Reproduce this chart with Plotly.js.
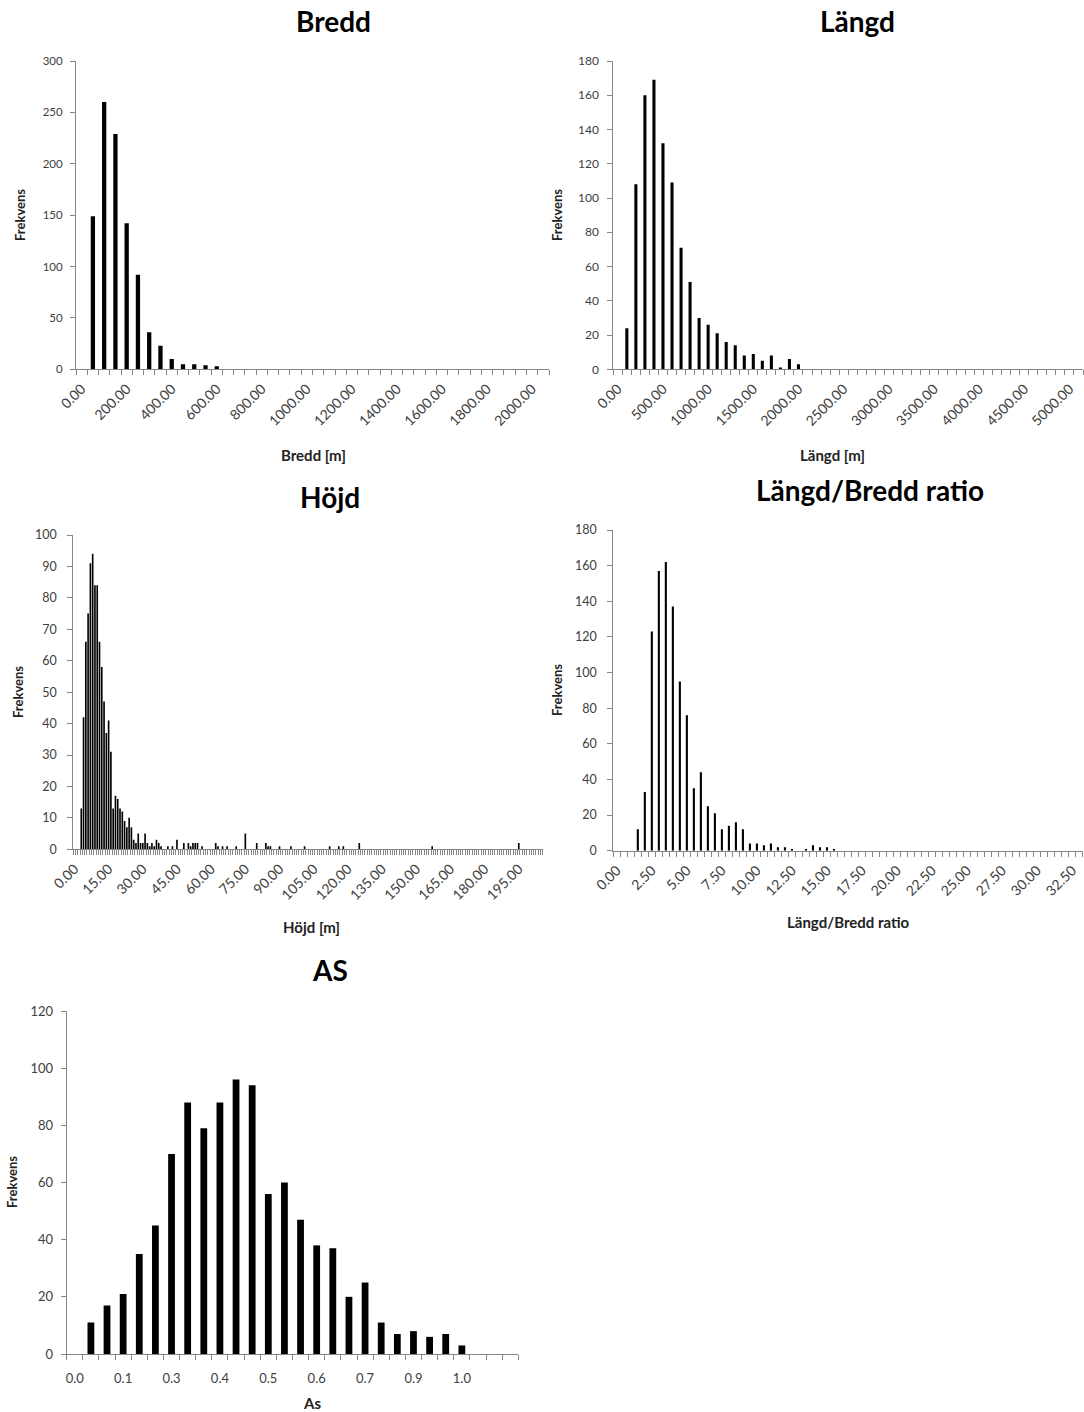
<!DOCTYPE html>
<html><head><meta charset="utf-8">
<script src="https://cdn.plot.ly/plotly-3.0.1.min.js"></script>
<style>html,body{margin:0;padding:0;background:#fff}#chart{width:1084px;height:1412px}</style>
</head><body><div id="chart"></div>
<script>
// ---------- DATA ----------
// Bredd histogram (bin upper limits, m) and frequencies
const breddBins = [0,50,100,150,200,250,300,350,400,450,500,550,600,650,700,750,800,850,900,950,1000,1050,1100,1150,1200,1250,1300,1350,1400,1450,1500,1550,1600,1650,1700,1750,1800,1850,1900,1950,2000,2050];
const breddFreq = [0,149,260,229,142,92,36,23,10,5,5,4,3,0,0,0,0,0,0,0,0,0,0,0,0,0,0,0,0,0,0,0,0,0,0,0,0,0,0,0,0,0];
const breddTickLabels = ["0.00","200.00","400.00","600.00","800.00","1000.00","1200.00","1400.00","1600.00","1800.00","2000.00"];

// Längd histogram
const langdBins = [0,100,200,300,400,500,600,700,800,900,1000,1100,1200,1300,1400,1500,1600,1700,1800,1900,2000,2100,2200,2300,2400,2500,2600,2700,2800,2900,3000,3100,3200,3300,3400,3500,3600,3700,3800,3900,4000,4100,4200,4300,4400,4500,4600,4700,4800,4900,5000,5100];
const langdFreq = [0,24,108,160,169,132,109,71,51,30,26,21,16,14,8,9,5,8,1,6,3,0,0,0,0,0,0,0,0,0,0,0,0,0,0,0,0,0,0,0,0,0,0,0,0,0,0,0,0,0,0,0];
const langdTickLabels = ["0.00","500.00","1000.00","1500.00","2000.00","2500.00","3000.00","3500.00","4000.00","4500.00","5000.00"];

// Höjd histogram
const hojdBins = [0,1,2,3,4,5,6,7,8,9,10,11,12,13,14,15,16,17,18,19,20,21,22,23,24,25,26,27,28,29,30,31,32,33,34,35,36,37,38,39,40,41,42,43,44,45,46,47,48,49,50,51,52,53,54,55,56,57,58,59,60,61,62,63,64,65,66,67,68,69,70,71,72,73,74,75,76,77,78,79,80,81,82,83,84,85,86,87,88,89,90,91,92,93,94,95,96,97,98,99,100,101,102,103,104,105,106,107,108,109,110,111,112,113,114,115,116,117,118,119,120,121,122,123,124,125,126,127,128,129,130,131,132,133,134,135,136,137,138,139,140,141,142,143,144,145,146,147,148,149,150,151,152,153,154,155,156,157,158,159,160,161,162,163,164,165,166,167,168,169,170,171,172,173,174,175,176,177,178,179,180,181,182,183,184,185,186,187,188,189,190,191,192,193,194,195,196,197,198,199,200,201,202,203,204,205];
const hojdFreq = [
  0,0,0,13,42,66,75,91,94,84,
  84,66,58,47,37,41,31,13,17,16,
  13,12,9,7,10,7,3,2,5,2,
  2,5,2,1,2,1,3,2,1,0,
  0,1,0,1,0,3,0,0,2,0,
  2,1,2,2,2,0,1,0,0,0,
  0,0,2,1,0,1,0,1,0,0,
  0,1,0,0,0,5,0,0,0,0,
  2,0,0,0,2,1,1,0,0,0,
  1,0,0,0,0,1,0,0,0,0,
  0,1,0,0,0,0,0,0,0,0,
  0,0,1,0,0,0,1,0,1,0,
  0,0,0,0,0,2,0,0,0,0,
  0,0,0,0,0,0,0,0,0,0,
  0,0,0,0,0,0,0,0,0,0,
  0,0,0,0,0,0,0,1,0,0,
  0,0,0,0,0,0,0,0,0,0,
  0,0,0,0,0,0,0,0,0,0,
  0,0,0,0,0,0,0,0,0,0,
  0,0,0,0,0,2,0,0,0,0,
  0,0,0,0,0,0];
const hojdTickLabels = ["0.00","15.00","30.00","45.00","60.00","75.00","90.00","105.00","120.00","135.00","150.00","165.00","180.00","195.00"];

// Längd/Bredd ratio histogram
const ratioBins = [0,0.5,1,1.5,2,2.5,3,3.5,4,4.5,5,5.5,6,6.5,7,7.5,8,8.5,9,9.5,10,10.5,11,11.5,12,12.5,13,13.5,14,14.5,15,15.5,16,16.5,17,17.5,18,18.5,19,19.5,20,20.5,21,21.5,22,22.5,23,23.5,24,24.5,25,25.5,26,26.5,27,27.5,28,28.5,29,29.5,30,30.5,31,31.5,32,32.5,33];
const ratioFreq = [0,0,0,12,33,123,157,162,137,95,76,35,44,25,21,12,14,16,12,4,4,3,4,2,2,1,0,1,3,2,2,1,0,0,0,0,0,0,0,0,0,0,0,0,0,0,0,0,0,0,0,0,0,0,0,0,0,0,0,0,0,0,0,0,0,0,0];
const ratioTickLabels = ["0.00","2.50","5.00","7.50","10.00","12.50","15.00","17.50","20.00","22.50","25.00","27.50","30.00","32.50"];

// AS histogram
const asBins = [0.012,0.053,0.093,0.134,0.174,0.215,0.255,0.296,0.336,0.377,0.417,0.458,0.498,0.539,0.579,0.620,0.660,0.701,0.741,0.782,0.822,0.863,0.903,0.944,0.984,1.025,1.065,1.106];
const asFreq = [0,11,17,21,35,45,70,88,79,88,96,94,56,60,47,38,37,20,25,11,7,8,6,7,3,0,0,0];
const asTickLabels = ["0.0","0.1","0.3","0.4","0.5","0.6","0.7","0.9","1.0"];

// ---------- LAYOUT HELPERS ----------
const W = 1084, H = 1412;
const FONT = 'Lato, "Open Sans", sans-serif';
const AXC = '#868686';
const TXT = '#404040';
const px = v => v / W;
const py = v => 1 - v / H;

const charts = [
  {bins: breddBins, freq: breddFreq, labels: breddTickLabels, every: 4, ymax: 300, dtick: 50,
   x0: 76, x1: 549, yTop: 61, yBot: 369.3, bw: 0.38, angle: -45, xfs: 14, yfs: 11.5, ysd: 5,
   title: 'Bredd', tx: 333, ty: 21, xt: 'Bredd [m]', xtx: 313, xty: 455, ytx: 20, yty: 215},
  {bins: langdBins, freq: langdFreq, labels: langdTickLabels, every: 5, ymax: 180, dtick: 20,
   x0: 613.3, x1: 1083, yTop: 61, yBot: 369.3, bw: 0.34, angle: -45, xfs: 14, yfs: 12, ysd: 6,
   title: 'Längd', tx: 857, ty: 21, xt: 'Längd [m]', xtx: 832, xty: 455, ytx: 557, yty: 215},
  {bins: hojdBins, freq: hojdFreq, labels: hojdTickLabels, every: 15, ymax: 100, dtick: 10,
   x0: 73.3, x1: 542.7, yTop: 535, yBot: 849.3, bw: 0.72, angle: -45, xfs: 14, yfs: 12.5, ysd: 8,
   title: 'Höjd', tx: 330, ty: 497, xt: 'Höjd [m]', xtx: 311, xty: 927, ytx: 18, yty: 692},
  {bins: ratioBins, freq: ratioFreq, labels: ratioTickLabels, every: 5, ymax: 180, dtick: 20,
   x0: 613.3, x1: 1082.7, yTop: 530, yBot: 850.7, bw: 0.3, angle: -45, xfs: 14, yfs: 12.5, ysd: 8,
   title: 'Längd/Bredd ratio', tx: 870, ty: 490, xt: 'Längd/Bredd ratio', xtx: 848, xty: 922, ytx: 557, yty: 690},
  {bins: asBins, freq: asFreq, labels: asTickLabels, every: 3, ymax: 120, dtick: 20,
   x0: 66.7, x1: 518.3, yTop: 1011, yBot: 1354, bw: 0.42, angle: 0, xfs: 13, yfs: 13, ysd: 5,
   title: 'AS', tx: 330, ty: 970, xt: 'As', xtx: 312, xty: 1403, ytx: 12, yty: 1182}
];

const data = [];
const layout = {
  width: W, height: H, margin: {l: 0, r: 0, t: 0, b: 0},
  paper_bgcolor: '#fff', plot_bgcolor: '#fff', showlegend: false,
  font: {family: FONT, color: TXT},
  annotations: []
};

charts.forEach((c, i) => {
  const n = i + 1;
  const xa = 'xaxis' + (n === 1 ? '' : n), ya = 'yaxis' + (n === 1 ? '' : n);
  const xr = 'x' + (n === 1 ? '' : n), yr = 'y' + (n === 1 ? '' : n);
  data.push({
    type: 'bar', x: c.bins.map((_, k) => k), y: c.freq,
    xaxis: xr, yaxis: yr, width: c.bw,
    marker: {color: '#000000', line: {width: 0}},
    hoverinfo: 'skip'
  });
  layout[xa] = {
    domain: [px(c.x0), px(c.x1)], anchor: yr,
    range: [-0.5, c.bins.length - 0.5], fixedrange: true,
    tickmode: 'array',
    tickvals: c.labels.map((_, j) => j * c.every),
    ticktext: c.labels,
    tickangle: c.angle, ticks: '', showgrid: false, zeroline: false,
    ticklabelstandoff: c.angle ? 5 : 12,
    showline: true, linecolor: AXC, linewidth: 1,
    tickfont: {family: FONT, size: c.xfs, color: TXT},
    minor: {tickmode: 'linear', tick0: -0.5, dtick: 1, ticks: 'outside', ticklen: 5,
            tickcolor: AXC, tickwidth: 1, showgrid: false}
  };
  layout[ya] = {
    domain: [py(c.yBot), py(c.yTop)], anchor: xr,
    range: [0, c.ymax], dtick: c.dtick, fixedrange: true,
    ticks: 'outside', ticklen: 5, tickcolor: AXC, tickwidth: 1,
    ticklabelstandoff: c.ysd,
    showline: true, linecolor: AXC, linewidth: 1, showgrid: false, zeroline: false,
    tickfont: {family: FONT, size: c.yfs, color: TXT}
  };
  layout.annotations.push(
    {text: '<b>' + c.title + '</b>', xref: 'paper', yref: 'paper', x: px(c.tx), y: py(c.ty),
     xanchor: 'center', yanchor: 'middle', showarrow: false, font: {family: FONT, size: 28, color: '#000'}},
    {text: '<b>' + c.xt + '</b>', xref: 'paper', yref: 'paper', x: px(c.xtx), y: py(c.xty),
     xanchor: 'center', yanchor: 'middle', showarrow: false, font: {family: FONT, size: 15, color: '#222'}},
    {text: '<b>Frekvens</b>', xref: 'paper', yref: 'paper', x: px(c.ytx), y: py(c.yty), textangle: -90,
     xanchor: 'center', yanchor: 'middle', showarrow: false, font: {family: FONT, size: 13, color: '#222'}}
  );
});

Plotly.newPlot('chart', data, layout, {staticPlot: true, displayModeBar: false});
</script>
</body></html>
